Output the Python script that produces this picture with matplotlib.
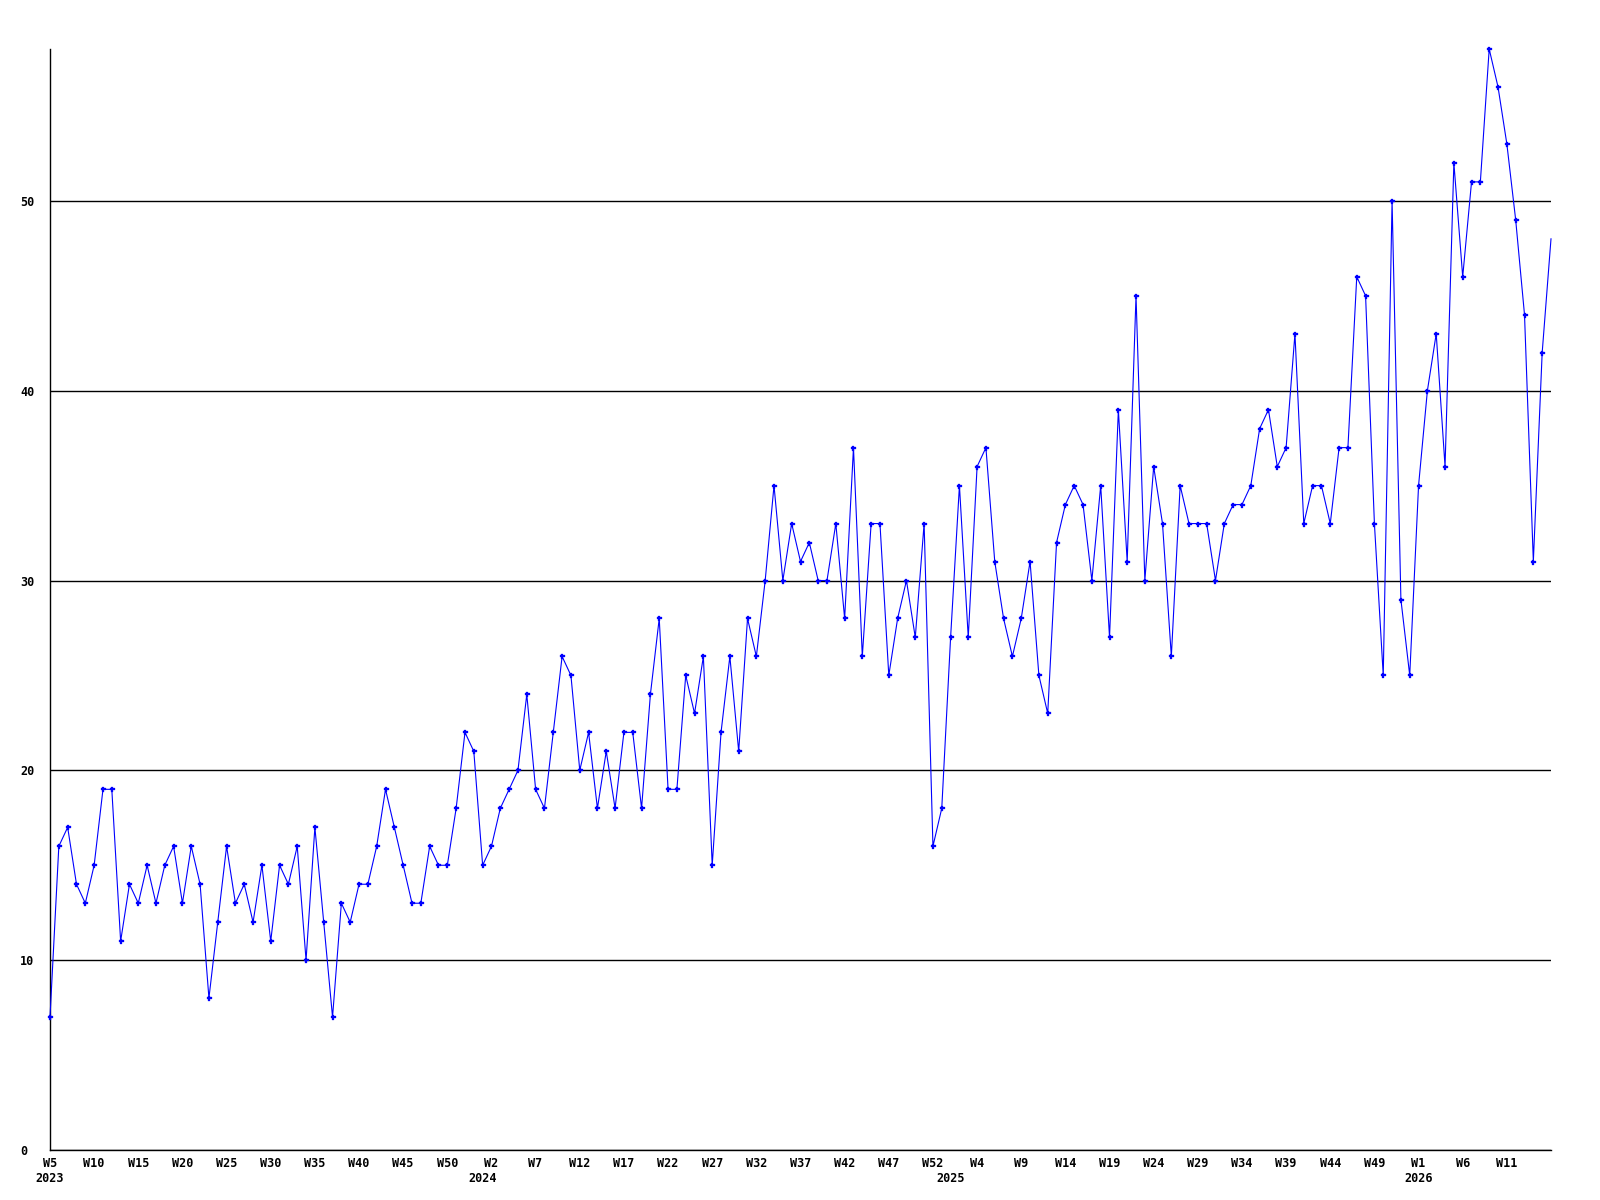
import matplotlib
matplotlib.use("Agg")
import matplotlib.pyplot as plt

# weekly counts, 2023 W5 .. 2026 W15
values = [
    7, 16, 17, 14, 13, 15, 19, 19, 11, 14,
    13, 15, 13, 15, 16, 13, 16, 14, 8, 12,
    16, 13, 14, 12, 15, 11, 15, 14, 16, 10,
    17, 12, 7, 13, 12, 14, 14, 16, 19, 17,
    15, 13, 13, 16, 15, 15, 18, 22, 21, 15,
    16, 18, 19, 20, 24, 19, 18, 22, 26, 25,
    20, 22, 18, 21, 18, 22, 22, 18, 24, 28,
    19, 19, 25, 23, 26, 15, 22, 26, 21, 28,
    26, 30, 35, 30, 33, 31, 32, 30, 30, 33,
    28, 37, 26, 33, 33, 25, 28, 30, 27, 33,
    16, 18, 27, 35, 27, 36, 37, 31, 28, 26,
    28, 31, 25, 23, 32, 34, 35, 34, 30, 35,
    27, 39, 31, 45, 30, 36, 33, 26, 35, 33,
    33, 33, 30, 33, 34, 34, 35, 38, 39, 36,
    37, 43, 33, 35, 35, 33, 37, 37, 46, 45,
    33, 25, 50, 29, 25, 35, 40, 43, 36, 52,
    46, 51, 51, 58, 56, 53, 49, 44, 31, 42,
    48,
]

# one label every 5 weeks
week_labels = [
    "W5", "W10", "W15", "W20", "W25", "W30", "W35", "W40", "W45", "W50",
    "W2", "W7", "W12", "W17", "W22", "W27", "W32", "W37", "W42", "W47",
    "W52", "W4", "W9", "W14", "W19", "W24", "W29", "W34", "W39", "W44",
    "W49", "W1", "W6", "W11",
]
year_labels = ["2023", "2024", "2025", "2026"]
year_first_week = [0, 49, 102, 155]

y_ticks = [0, 10, 20, 30, 40, 50]

font = {"family": "DejaVu Sans Mono", "weight": "bold", "size": 8.5}

fig = plt.figure(figsize=(16, 12), dpi=100)
ax = fig.add_axes([50 / 1600, 50 / 1200, 1501 / 1600, 1101 / 1200])

x = list(range(len(values)))
ax.plot(x, values, color="#0000ff", lw=0.8, marker="P", ms=3.6,
        mfc="#0000ff", mec="#0000ff", mew=0.2,
        markevery=slice(0, len(values) - 1), clip_on=False, zorder=3)

ax.set_xlim(0, len(values) - 1)
ax.set_ylim(0, 58)

ax.set_yticks(y_ticks)
ax.set_yticklabels([str(t) for t in y_ticks], fontdict=font, ha="left")
ax.tick_params(axis="y", length=0, pad=21.6)

ax.set_xticks(x[:5 * len(week_labels):5])
ax.set_xticklabels(week_labels, fontdict=font)
ax.tick_params(axis="x", length=0, pad=5)

for label, idx in zip(year_labels, year_first_week):
    ax.annotate(label, xy=(idx, 0), xycoords=("data", "axes fraction"),
                xytext=(0, -22), textcoords="offset pixels",
                ha="center", va="top", **font)

ax.set_axisbelow(True)
ax.grid(axis="y", color="black", lw=1.0)
ax.grid(axis="x", visible=False)

for side in ["top", "right"]:
    ax.spines[side].set_visible(False)
for side in ["left", "bottom"]:
    ax.spines[side].set_color("black")
    ax.spines[side].set_linewidth(1.0)

fig.savefig("out.png", dpi=100, facecolor="white")
